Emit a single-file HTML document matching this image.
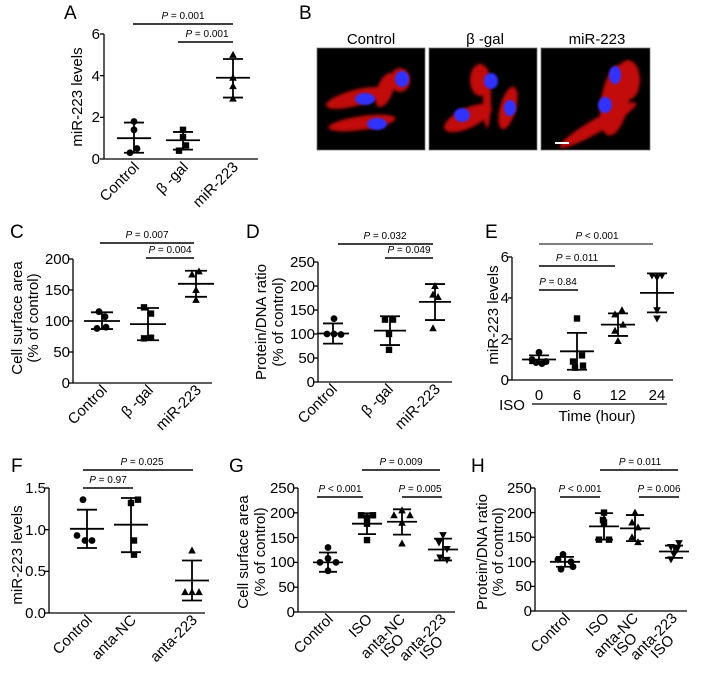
<!DOCTYPE html>
<html><head><meta charset="utf-8"><style>
html,body{margin:0;padding:0;background:#fff;}
svg{display:block;font-family:"Liberation Sans",Arial,sans-serif;}
</style></head><body>
<svg id="s" width="707" height="673" viewBox="0 0 707 673" xmlns="http://www.w3.org/2000/svg">
<defs>
<filter id="b1"><feGaussianBlur stdDeviation="1.5"/></filter>
<filter id="b2"><feGaussianBlur stdDeviation="1"/></filter>
</defs>
<g font-size="19" fill="#000">
<text x="64" y="19">A</text><text x="299" y="19">B</text>
<text x="10" y="238">C</text><text x="246" y="238">D</text><text x="485" y="238">E</text>
<text x="11" y="472">F</text><text x="229" y="472">G</text><text x="471" y="472">H</text>
</g>
<g font-size="15" text-anchor="middle">
<text x="371" y="44">Control</text><text x="485" y="44">β -gal</text><text x="597" y="44">miR-223</text>
</g>
<rect x="317" y="48" width="108" height="102" fill="#000" stroke="#777" stroke-width="0.8"/>
<rect x="429" y="48" width="108" height="102" fill="#000" stroke="#777" stroke-width="0.8"/>
<rect x="541" y="48" width="109" height="102" fill="#000" stroke="#777" stroke-width="0.8"/>
<g fill="#d81010" filter="url(#b1)" opacity="0.9">
<ellipse cx="355" cy="98" rx="30" ry="8" transform="rotate(-15 355 98)"/>
<ellipse cx="400" cy="80" rx="10" ry="12"/>
<ellipse cx="385" cy="90" rx="8" ry="18" transform="rotate(20 385 90)"/>
<ellipse cx="362" cy="123" rx="34" ry="7" transform="rotate(-8 362 123)"/>
<ellipse cx="480" cy="80" rx="10" ry="16"/>
<ellipse cx="468" cy="118" rx="26" ry="10" transform="rotate(-25 468 118)"/>
<ellipse cx="508" cy="108" rx="8" ry="22" transform="rotate(15 508 108)"/>
<ellipse cx="487" cy="100" rx="4" ry="28"/>
<ellipse cx="598" cy="125" rx="44" ry="7" transform="rotate(-30 598 125)"/>
<ellipse cx="615" cy="100" rx="14" ry="36" transform="rotate(10 615 100)"/>
<ellipse cx="628" cy="80" rx="12" ry="20"/>
</g>
<g fill="#3030ff" filter="url(#b2)">
<ellipse cx="365" cy="99" rx="10" ry="6"/><ellipse cx="402" cy="79" rx="7" ry="8"/><ellipse cx="377" cy="124" rx="10" ry="6"/>
<ellipse cx="491" cy="81" rx="7" ry="8"/><ellipse cx="462" cy="115" rx="8" ry="7"/><ellipse cx="510" cy="108" rx="6" ry="8"/>
<ellipse cx="615" cy="75" rx="6" ry="9"/><ellipse cx="605" cy="105" rx="7" ry="8"/>
</g>
<line x1="555" y1="143" x2="569" y2="143" stroke="#fff" stroke-width="2"/>

<g font-size="15" text-anchor="end">
<text x="100" y="39">6</text><text x="100" y="81">4</text><text x="100" y="122">2</text><text x="100" y="164">0</text>
<text x="70" y="264">200</text><text x="70" y="295">150</text><text x="70" y="326">100</text><text x="70" y="357">50</text><text x="70" y="388">0</text>
<text x="315" y="267">250</text><text x="315" y="291">200</text><text x="315" y="315">150</text><text x="315" y="339">100</text><text x="315" y="363">50</text><text x="315" y="387">0</text>
<text x="509" y="262">6</text><text x="509" y="303">4</text><text x="509" y="344">2</text><text x="509" y="385">0</text>
<text x="46" y="493">1.5</text><text x="46" y="535">1.0</text><text x="46" y="576">0.5</text><text x="46" y="618">0.0</text>
<text x="295" y="493">250</text><text x="295" y="518">200</text><text x="295" y="543">150</text><text x="295" y="567">100</text><text x="295" y="592">50</text><text x="295" y="617">0</text>
<text x="532" y="493">250</text><text x="532" y="518">200</text><text x="532" y="542">150</text><text x="532" y="567">100</text><text x="532" y="591">50</text><text x="532" y="616">0</text>
</g>
<g font-size="15" text-anchor="middle">
<text transform="translate(82,97) rotate(-90)">miR-223 levels</text>
<text transform="translate(22,318) rotate(-90)">Cell surface area</text>
<text transform="translate(38,318) rotate(-90)">(% of control)</text>
<text transform="translate(266,322) rotate(-90)">Protein/DNA ratio</text>
<text transform="translate(283,322) rotate(-90)">(% of control)</text>
<text transform="translate(498,315) rotate(-90)">miR-223  levels</text>
<text transform="translate(22,555) rotate(-90)">miR-223 levels</text>
<text transform="translate(248,552) rotate(-90)">Cell surface area</text>
<text transform="translate(265,552) rotate(-90)">(% of control)</text>
<text transform="translate(487,552) rotate(-90)">Protein/DNA ratio</text>
<text transform="translate(503,552) rotate(-90)">(% of control)</text>
</g>
<g font-size="15" text-anchor="end">
<text transform="translate(140,168) rotate(-45)">Control</text>
<text transform="translate(189,168) rotate(-45)">β -gal</text>
<text transform="translate(239,168) rotate(-45)">miR-223</text>
<text transform="translate(108,391) rotate(-45)">Control</text>
<text transform="translate(154,391) rotate(-45)">β -gal</text>
<text transform="translate(202,391) rotate(-45)">miR-223</text>
<text transform="translate(338,390) rotate(-45)">Control</text>
<text transform="translate(394,390) rotate(-45)">β -gal</text>
<text transform="translate(441,390) rotate(-45)">miR-223</text>
<text transform="translate(93,621) rotate(-45)">Control</text>
<text transform="translate(137,621) rotate(-45)">anta-NC</text>
<text transform="translate(198,621) rotate(-45)">anta-223</text>
<text transform="translate(334,620) rotate(-45)">Control</text>
<text transform="translate(373,620) rotate(-45)">ISO</text>
<text transform="translate(406,620) rotate(-45)">anta-NC</text>
<text transform="translate(405,640) rotate(-45)">ISO</text>
<text transform="translate(447,620) rotate(-45)">anta-223</text>
<text transform="translate(444,642) rotate(-45)">ISO</text>
<text transform="translate(571,619) rotate(-45)">Control</text>
<text transform="translate(610,619) rotate(-45)">ISO</text>
<text transform="translate(639,619) rotate(-45)">anta-NC</text>
<text transform="translate(638,639) rotate(-45)">ISO</text>
<text transform="translate(678,619) rotate(-45)">anta-223</text>
<text transform="translate(675,641) rotate(-45)">ISO</text>
</g>
<g font-size="15" text-anchor="middle">
<text x="539" y="400">0</text><text x="577" y="400">6</text><text x="618" y="400">12</text><text x="657" y="400">24</text>
<text x="512" y="410">ISO</text>
<text x="597" y="421">Time (hour)</text>
</g>
<line x1="532" y1="404" x2="667" y2="404" stroke="#000" stroke-width="1.3"/>
<g font-size="10" text-anchor="middle">
<text x="183" y="19"><tspan font-style="italic">P</tspan> = 0.001</text>
<text x="207" y="37"><tspan font-style="italic">P</tspan> = 0.001</text>
<text x="147" y="238"><tspan font-style="italic">P</tspan> = 0.007</text>
<text x="170" y="253"><tspan font-style="italic">P</tspan> = 0.004</text>
<text x="385" y="239"><tspan font-style="italic">P</tspan> = 0.032</text>
<text x="409" y="253"><tspan font-style="italic">P</tspan> = 0.049</text>
<text x="597" y="239"><tspan font-style="italic">P</tspan> &lt; 0.001</text>
<text x="577" y="261"><tspan font-style="italic">P</tspan> = 0.011</text>
<text x="558" y="285"><tspan font-style="italic">P</tspan> = 0.84</text>
<text x="142" y="465"><tspan font-style="italic">P</tspan> = 0.025</text>
<text x="108" y="483"><tspan font-style="italic">P</tspan> = 0.97</text>
<text x="401" y="465"><tspan font-style="italic">P</tspan> = 0.009</text>
<text x="340" y="492"><tspan font-style="italic">P</tspan> &lt; 0.001</text>
<text x="420" y="492"><tspan font-style="italic">P</tspan> = 0.005</text>
<text x="640" y="465"><tspan font-style="italic">P</tspan> = 0.011</text>
<text x="580" y="492"><tspan font-style="italic">P</tspan> &lt; 0.001</text>
<text x="659" y="492"><tspan font-style="italic">P</tspan> = 0.006</text>
</g>
<g id="dyn"></g>
</svg>
<script>
const NS="http://www.w3.org/2000/svg",G=document.getElementById("dyn");
function el(t,a){const e=document.createElementNS(NS,t);for(const k in a)e.setAttribute(k,a[k]);G.appendChild(e);return e;}
function ln(x1,y1,x2,y2,w,c){el("line",{x1,y1,x2,y2,stroke:c||"#000","stroke-width":w||1.8});}
function mk(s,x,y){const r=3.4;
 if(s=="c")el("circle",{cx:x,cy:y,r});
 else if(s=="s")el("rect",{x:x-3.2,y:y-3.2,width:6.4,height:6.4});
 else if(s=="t")el("polygon",{points:`${x},${y-4} ${x-3.8},${y+3} ${x+3.8},${y+3}`});
 else el("polygon",{points:`${x},${y+4} ${x-3.8},${y-3} ${x+3.8},${y-3}`});}
function panel(p){
 const Y=v=>p.y0+(v-p.v0)*(p.y1-p.y0)/(p.v1-p.v0);
 ln(p.ax,Y(p.vmax),p.ax,p.y0,1.3);ln(p.ax,p.y0,p.end,p.y0,1.3);
 p.ticks.forEach(v=>ln(p.ax-4,Y(v),p.ax,Y(v),1.3));
 p.bars.forEach(b=>ln(b[0],b[2],b[1],b[2],1.5,b[3]||"#000"));
 p.g.forEach(g=>{const x=g.x;
  ln(x,Y(g.hi),x,Y(g.lo),1.8);
  ln(x-p.cw,Y(g.hi),x+p.cw,Y(g.hi),1.8);ln(x-p.cw,Y(g.lo),x+p.cw,Y(g.lo),1.8);
  ln(x-p.mw,Y(g.m),x+p.mw,Y(g.m),1.8);
  g.p.forEach(q=>mk(g.s,x+q[1],Y(q[0])));});}
panel({ax:104,end:258,y0:159,v0:0,y1:34,v1:6,vmax:6,ticks:[0,2,4,6],cw:10,mw:17,
 bars:[[133,233,24],[178,233,42]],
 g:[{x:134,m:1.0,hi:1.75,lo:0.3,s:"c",p:[[1.8,0],[1.4,0],[0.5,3],[0.3,-4]]},
 {x:183,m:0.9,hi:1.3,lo:0.45,s:"s",p:[[1.4,0],[1.05,0],[0.65,3],[0.4,-4]]},
 {x:233,m:3.9,hi:4.8,lo:2.95,s:"t",p:[[5.0,0],[3.9,0],[3.5,0],[2.9,0]]}]});
panel({ax:73,end:212,y0:383,v0:0,y1:259,v1:200,vmax:200,ticks:[0,50,100,150,200],cw:11,mw:18,
 bars:[[100,194,243],[146,194,258]],
 g:[{x:102,m:100,hi:114,lo:87,s:"c",p:[[115,-3],[107,3],[90,4],[88,-5]]},
 {x:148,m:95,hi:121,lo:69,s:"s",p:[[122,-4],[112,3],[72,-4],[73,3]]},
 {x:196,m:160,hi:181,lo:139,s:"t",p:[[180,3],[175,-4],[150,0],[134,0]]}]});
panel({ax:318,end:452,y0:382,v0:0,y1:262,v1:250,vmax:250,ticks:[0,50,100,150,200,250],cw:10,mw:16,
 bars:[[338,433,244],[385,433,258]],
 g:[{x:333,m:101,hi:122,lo:80,s:"c",p:[[132,1],[100,-6],[100,1],[99,8]]},
 {x:390,m:107,hi:137,lo:77,s:"s",p:[[130,-5],[130,3],[100,-1],[67,-1]]},
 {x:435,m:167,hi:204,lo:129,s:"t",p:[[200,0],[182,-2],[177,3],[112,-2]]}]});
panel({ax:512,end:673,y0:380,v0:0,y1:257,v1:6,vmax:6,ticks:[0,2,4,6],cw:10,mw:17,
 bars:[[539,578,290],[539,615,266],[539,653,244,"#555"]],
 g:[{x:539,m:1.0,hi:1.2,lo:0.82,s:"c",p:[[1.35,0],[1.0,-7],[0.9,7],[0.85,-3],[0.8,3]]},
 {x:577,m:1.4,hi:2.3,lo:0.5,s:"s",p:[[3.0,0],[1.2,5],[0.9,-4],[0.7,6],[0.6,-2]]},
 {x:618,m:2.7,hi:3.25,lo:2.15,s:"t",p:[[3.4,4],[3.2,-3],[2.7,5],[2.4,-3],[1.9,0]]},
 {x:657,m:4.25,hi:5.2,lo:3.3,s:"v",p:[[5.1,-5],[5.1,5],[5.0,0],[3.4,0],[3.0,0]]}]});
panel({ax:49,end:205,y0:613,v0:0,y1:488,v1:1.5,vmax:1.5,ticks:[0,0.5,1,1.5],cw:10,mw:17,
 bars:[[83,193,470],[83,133,488]],
 g:[{x:87,m:1.01,hi:1.24,lo:0.78,s:"c",p:[[1.36,-4],[0.93,-10],[0.87,-2],[0.87,5]]},
 {x:131,m:1.06,hi:1.38,lo:0.73,s:"s",p:[[1.36,7],[1.32,0],[0.87,3],[0.70,3]]},
 {x:192,m:0.39,hi:0.63,lo:0.15,s:"t",p:[[0.75,0],[0.25,-7],[0.25,0],[0.25,7]]}]});
panel({ax:298,end:455,y0:612,v0:0,y1:488,v1:250,vmax:250,ticks:[0,50,100,150,200,250],cw:9,mw:15,
 bars:[[317,363,497],[402,442,497],[362,440,470]],
 g:[{x:328,m:100,hi:120,lo:81,s:"c",p:[[130,0],[108,0],[100,-8],[100,8],[83,0]]},
 {x:367,m:178,hi:199,lo:157,s:"s",p:[[195,-6],[195,6],[190,0],[178,0],[145,0]]},
 {x:402,m:182,hi:207,lo:156,s:"t",p:[[205,0],[195,-8],[195,8],[180,0],[138,0]]},
 {x:443,m:126,hi:148,lo:104,s:"v",p:[[155,0],[140,-4],[127,4],[110,-3],[105,4]]}]});
panel({ax:535,end:687,y0:611,v0:0,y1:488,v1:250,vmax:250,ticks:[0,50,100,150,200,250],cw:9,mw:15,
 bars:[[560,600,497],[639,679,497],[600,678,470]],
 g:[{x:565,m:100,hi:110,lo:90,s:"c",p:[[115,-2],[105,-7],[100,6],[90,8],[85,-4]]},
 {x:604,m:172,hi:199,lo:145,s:"s",p:[[200,0],[185,-1],[180,0],[145,-5],[145,5]]},
 {x:635,m:168,hi:195,lo:142,s:"t",p:[[200,0],[180,-3],[170,3],[150,-3],[140,3]]},
 {x:674,m:121,hi:133,lo:108,s:"v",p:[[138,5],[130,-3],[125,3],[115,0],[105,-3]]}]});
</script>
</body></html>
